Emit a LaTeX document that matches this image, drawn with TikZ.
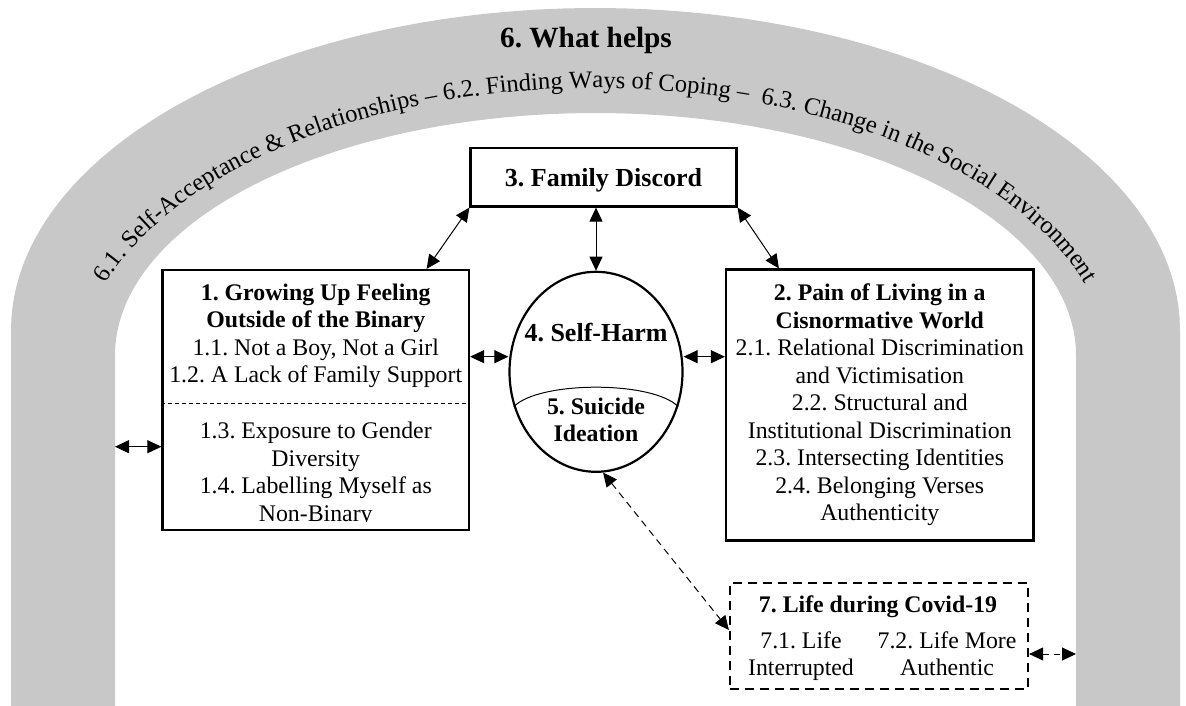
\documentclass[tikz,border=0pt]{standalone}
\usepackage{fontspec}
\setmainfont{Liberation Serif}
\usepackage{tikz}
\usetikzlibrary{shapes,arrows.meta,calc,decorations.text}
\definecolor{archgray}{RGB}{200,200,200}
\newcommand{\cellstack}[1]{\begin{tabular}[t]{@{}c@{}}#1\end{tabular}}
\newcommand{\archfont}{\fontsize{24.6}{28}\selectfont}
\frenchspacing

\begin{document}
\begin{tikzpicture}[x=1pt, y=-1pt,
    box/.style={draw, line width=2.2pt, inner sep=0pt},
    txt/.style={anchor=base, inner sep=0pt, font=\fontsize{23.8}{27.5}\selectfont},
    big/.style={anchor=base, inner sep=0pt, font=\fontsize{26}{30}\selectfont\bfseries},
    link/.style={{Triangle[length=14pt,width=13pt]}-{Triangle[length=14pt,width=13pt]}, line width=1pt}]
    \useasboundingbox (0,0) rectangle (1186,706);

    % Arch: 6. What helps
    \fill[archgray] (11,706) -- plot[domain=180:0, samples=90] ({595.5+584.5*cos(\x)}, {330-322*sin(\x)})
        -- (1180,706) -- (1076,706)
        -- plot[domain=0:180, samples=90] ({595.5+480.5*cos(\x)}, {355-242*sin(\x)})
        -- (115,706) -- cycle;
    \node[anchor=base, inner sep=0pt, font=\fontsize{29.3}{34}\selectfont\bfseries] (helps) at (586,48) {6. What helps};
    % text along the arch
    \path[decorate, decoration={text along path, text align=center,
        text={|\archfont|6.1. Self-Acceptance {\&} Relationships {\textendash} 6.2. Finding Ways of Coping {\textendash} {~}6.3. Change in the Social Environment}}]
        plot[domain=166:14, samples=121] ({595.5+519*cos(\x)}, {380-292*sin(\x)});

    % Family discord
    \node[box, minimum width=266pt, minimum height=58.5pt] (discord) at (603.5,177.25) {};
    \node[big] (discordtxt) at (603.5,186) {3. Family Discord};

    % Growing up
    \node[box, minimum width=306.5pt, minimum height=260pt] (growing) at (315.75,400) {};
    \node[txt] (growingtop) at (315.75,300) {\cellstack{\textbf{1. Growing Up Feeling}\\ \textbf{Outside of the Binary}\\ 1.1. Not a Boy, Not a Girl\\ 1.2. A Lack of Family Support}};
    \draw[line width=0.8pt, dash pattern=on 4pt off 3pt] (growing.west |- 0,403) -- (growing.east |- 0,403);
    \begin{scope}
        \clip (162,270) rectangle (469,521);
        \node[txt] (growingbot) at (315.75,438.5) {\cellstack{1.3. Exposure to Gender\\ Diversity\\ 1.4. Labelling Myself as\\ Non-Binary}};
    \end{scope}

    % Pain of living
    \node[box, minimum width=307.5pt, minimum height=271pt] (pain) at (879.75,405) {};
    \node[txt] (paintxt) at (879.75,300.5) {\cellstack{\textbf{2. Pain of Living in a}\\ \textbf{Cisnormative World}\\ 2.1. Relational Discrimination\\ and Victimisation\\ 2.2. Structural and\\ Institutional Discrimination\\ 2.3. Intersecting Identities\\ 2.4. Belonging Verses\\ Authenticity}};

    % Self-harm and suicide ideation
    \node[draw, ellipse, line width=2.2pt, minimum width=173pt, minimum height=200pt, inner sep=0pt] (harm) at (596,371.8) {};
    \node[big] (harmtxt) at (596,341.5) {4. Self-Harm};
    \draw[line width=1pt] (harm.203) .. controls +(25,-26) and +(-25,-26) .. (harm.337);
    \node[txt, font=\fontsize{23.8}{26.5}\selectfont\bfseries] (ideation) at (596,414.7) {\cellstack{5. Suicide\\ Ideation}};

    % Covid
    \node[box, dash pattern=on 9pt off 6pt, minimum width=298pt, minimum height=106pt] (covid) at (879,636) {};
    \node[txt, font=\fontsize{23.8}{27.5}\selectfont\bfseries] (covidtitle) at (878,612.7) {7. Life during Covid-19};
    \node[txt] (interrupted) at (801,648) {\cellstack{7.1. Life\\ Interrupted}};
    \node[txt] (authentic) at (947,648) {\cellstack{7.2. Life More\\ Authentic}};

    % Links
    \coordinate (leftleg) at (115,446.7);
    \coordinate (rightleg) at (1076,654);
    \draw[link] (discord.south west) -- ($(growing.north east)+(-43.5,0)$);
    \draw[link] (discord.south -| harm.north) -- (harm.north);
    \draw[link] (discord.south east) -- ($(pain.north west)+(54,0)$);
    \draw[link] (growing.east |- 0,356.7) -- (harm.west |- 0,356.7);
    \draw[link] (harm.east |- 0,356.7) -- (pain.west |- 0,356.7);
    \draw[link] (leftleg) -- (growing.west |- leftleg);
    \draw[link, dash pattern=on 7pt off 5pt] (harm.-86) -- (covid.west |- 0,630);
    \draw[link, dash pattern=on 6pt off 5pt] (covid.east |- rightleg) -- (rightleg);
\end{tikzpicture}
\end{document}
